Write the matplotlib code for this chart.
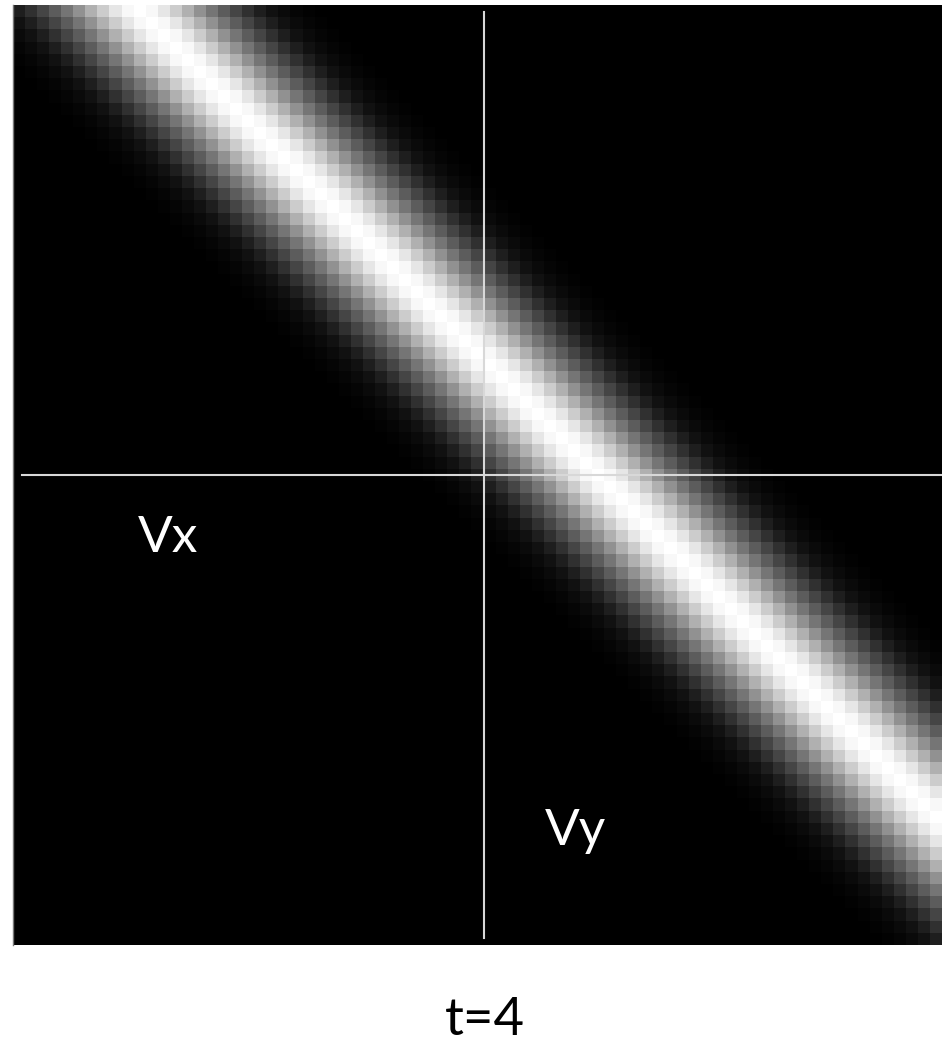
import numpy as np
import matplotlib
matplotlib.use("Agg")
import matplotlib.pyplot as plt

# Velocity-space grid (cells per side) and the band's horizontal offset
n_cells = 77
ridge_offset = 10

# Intensity across the band, by cell distance from the ridge (0 .. 14)
band_profile = [1.00, 0.97, 0.90, 0.80, 0.69, 0.57, 0.46, 0.36,
                0.27, 0.19, 0.12, 0.07, 0.04, 0.02, 0.01]

# Origin of velocity space, in grid cells (column, row)
origin = (39.0, 38.5)

axis_labels = ["Vx", "Vy"]
title_text = "t=4"

# Build the field: every cell takes the profile value for its diagonal distance
rows, cols = np.indices((n_cells, n_cells))
dist = np.abs(cols - rows - ridge_offset)
profile = np.array(band_profile + [0.0])
field = profile[np.minimum(dist, len(band_profile))]

W, H = 942, 1044
fig = plt.figure(figsize=(W / 100, H / 100), dpi=100)
fig.patch.set_facecolor("white")

left, right, top, bottom = 13, 942, 5, 945
ax = fig.add_axes([left / W, 1 - bottom / H, (right - left) / W, (bottom - top) / H])
ax.imshow(field, cmap="gray", vmin=0, vmax=1, interpolation="nearest",
          extent=(0, n_cells, n_cells, 0), aspect="auto")
ax.set_xlim(0, n_cells)
ax.set_ylim(n_cells, 0)
ax.set_xticks([])
ax.set_yticks([])
for name, sp in ax.spines.items():
    sp.set_visible(name == "left")
ax.spines["left"].set_color("#777777")
ax.spines["left"].set_linewidth(1.0)

# Crosshair through the origin
ax.plot([origin[0], origin[0]], [0.6, 76.4], color="#d8d8d8", lw=1.5)
ax.plot([0.75, n_cells], [origin[1], origin[1]], color="#d8d8d8", lw=1.5)

font = "Lato"
fig.text(138 / W, 1 - 552 / H, axis_labels[0], color="white", fontsize=37,
         family=font, ha="left", va="baseline")
fig.text(545 / W, 1 - 845 / H, axis_labels[1], color="white", fontsize=37,
         family=font, ha="left", va="baseline")
fig.text(485 / W, 1 - 1035 / H, title_text, color="black", fontsize=38,
         family=font, ha="center", va="baseline")

fig.savefig("out.png", dpi=100, facecolor="white")
